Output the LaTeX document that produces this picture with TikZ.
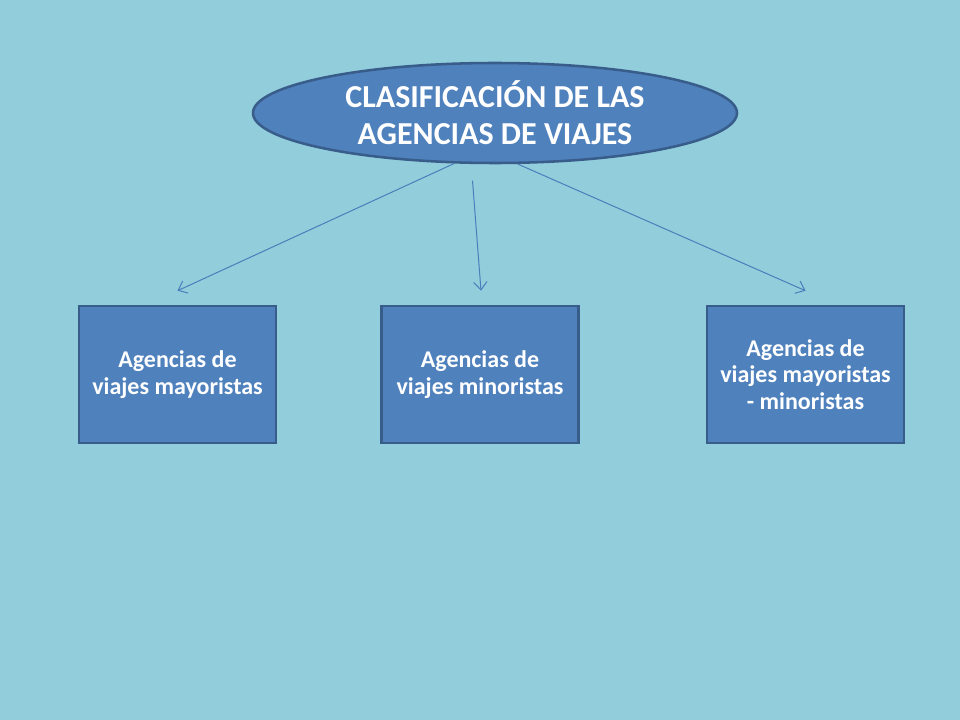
\documentclass[tikz,border=0pt]{standalone}
\usepackage{fontspec}
\setmainfont{Carlito}
\usepackage{tikz}
\usetikzlibrary{arrows.meta, positioning, calc, shapes.geometric}

\definecolor{slidebg}{HTML}{92CDDC}
\definecolor{shapefill}{HTML}{4F81BD}
\definecolor{shapeline}{HTML}{385D8A}
\definecolor{arrowline}{HTML}{4A7EBB}

\begin{document}
\begin{tikzpicture}[
          x=0.75pt, y=-0.75pt,
          title/.style={ellipse, draw=shapeline, fill=shapefill, line width=1.9pt,
            minimum width=363pt, minimum height=75pt, inner sep=0pt,
            text=white, align=center, font=\bfseries\fontsize{24}{28}\selectfont},
          agencybox/.style={rectangle, draw=shapeline, fill=shapefill, line width=1.9pt,
            minimum width=147.75pt, minimum height=102.75pt, inner sep=0pt,
            text=white, align=center, font=\bfseries\fontsize{18}{20}\selectfont},
          link/.style={->, draw=arrowline, line width=0.75pt},
          >={Straight Barb[length=6pt,width=10pt]}
        ]
        % slide background
        \fill [slidebg] (0,0) rectangle (960,720);

        \node [title] (clasif) at (495,113) {CLASIFICACIÓN DE LAS\\AGENCIAS DE VIAJES};

        \node [agencybox] (mayor) at (177.5,374.5) {Agencias de\\viajes mayoristas};
        \node [agencybox] (minor) at (480,374.5) {Agencias de\\viajes minoristas};
        \node [agencybox] (mixta) at (805.5,374.5) {Agencias de\\viajes mayoristas\\- minoristas};

        % arrow tips stop short of the boxes
        \coordinate (mayortip) at ($(mayor.north)+(0,-14)$);
        \coordinate (minortip) at ($(minor.north)+(1,-14)$);
        \coordinate (mixtatip) at ($(mixta.north)+(0,-14)$);

        \draw [link] (clasif.231) -- (mayortip);
        \draw [link, shorten <=12.5pt] (clasif.245) -- (minortip);
        \draw [link] (clasif.294) -- (mixtatip);
        \end{tikzpicture}
\end{document}
